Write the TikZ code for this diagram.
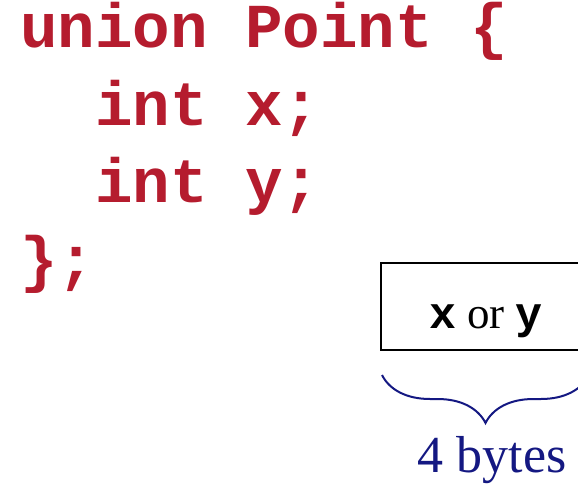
\documentclass[tikz,border=0pt]{standalone}
\usepackage{fontspec}
\setmainfont{Liberation Serif}
\setmonofont{Liberation Mono}
\usetikzlibrary{decorations.pathreplacing}
\definecolor{codered}{RGB}{181,28,46}
\definecolor{navy}{RGB}{20,24,130}
\tikzset{
  codeline/.style={anchor=base west, inner sep=0pt, text=codered, font=\fontsize{62.5}{75}\selectfont\ttfamily\bfseries},
  cellbox/.style={draw=black, line width=2pt},
  bracestyle/.style={draw=navy, line width=2pt, decorate, decoration={brace, mirror, amplitude=48pt}},
  sizelabel/.style={anchor=base, inner sep=0pt, text=navy, font=\fontsize{52}{58}\selectfont}
}
\begin{document}
\begin{tikzpicture}[x=1pt,y=-1pt]
\useasboundingbox (0,0) rectangle (578,489);
\clip (0,0) rectangle (578,489);
\node[codeline] (l1) at (20,48) {union Point \{};
\node[codeline] (l2) at (20,126) {\ \ int x;};
\node[codeline] (l3) at (20,203) {\ \ int y;};
\node[codeline] (l4) at (20,280) {\};};
\draw[cellbox] (381,263) rectangle (620,350);
\node[anchor=base, inner sep=0pt, font=\fontsize{45}{50}\selectfont] (cell) at (486,328) {\texttt{\bfseries x} or \texttt{\bfseries y}};
\coordinate (bl) at (382,375);
\coordinate (br) at (589,375);
\draw[bracestyle] (bl) -- (br);
\node[sizelabel] (lbl) at (492,472) {4 bytes};
\end{tikzpicture}
\end{document}
